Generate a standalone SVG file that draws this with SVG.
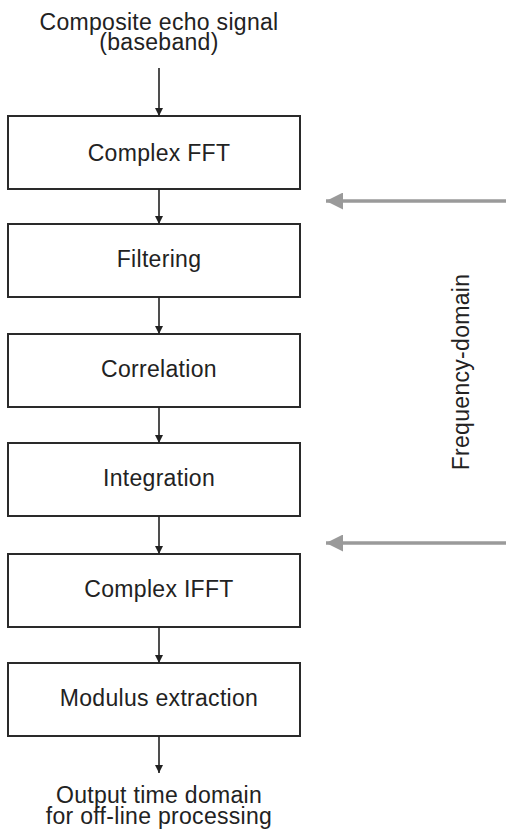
<svg xmlns="http://www.w3.org/2000/svg" width="506" height="830" viewBox="0 0 506 830">
<style>
.box{fill:#fff;stroke:#2a2a2a;stroke-width:2}
.t{font-family:"Liberation Sans",Arial,sans-serif;font-size:23px;fill:#222;text-anchor:middle;letter-spacing:0.3px}
.c{stroke:#222;stroke-width:1.6;fill:none}
.g{stroke:#9a9a9a;stroke-width:3.5;fill:none}
</style>
<defs>
<marker id="ah" viewBox="0 0 10 10" refX="10" refY="5" markerWidth="8" markerHeight="11" markerUnits="userSpaceOnUse" orient="auto">
<path d="M0,0 L10,5 L0,10 Z" fill="#222"/>
</marker>
<marker id="gh" viewBox="0 0 10 10" refX="10" refY="5" markerWidth="20" markerHeight="17" markerUnits="userSpaceOnUse" orient="auto">
<path d="M0,0 L10,5 L0,10 Z" fill="#9a9a9a"/>
</marker>
</defs>
<text class="t" x="159" y="30">Composite echo signal</text>
<text class="t" x="159" y="50">(baseband)</text>
<g id="n1"><rect class="box" x="8" y="116" width="292" height="73"/><text class="t" x="159" y="161">Complex FFT</text></g>
<g id="n2"><rect class="box" x="8" y="224" width="292" height="73"/><text class="t" x="159" y="267">Filtering</text></g>
<g id="n3"><rect class="box" x="8" y="334" width="292" height="73"/><text class="t" x="159" y="377">Correlation</text></g>
<g id="n4"><rect class="box" x="8" y="443" width="292" height="73"/><text class="t" x="159" y="486">Integration</text></g>
<g id="n5"><rect class="box" x="8" y="554" width="292" height="73"/><text class="t" x="159" y="597">Complex IFFT</text></g>
<g id="n6"><rect class="box" x="8" y="663" width="292" height="73"/><text class="t" x="159" y="706">Modulus extraction</text></g>
<text class="t" x="159" y="803">Output time domain</text>
<text class="t" x="159" y="824">for off-line processing</text>
<text class="t" transform="translate(469,372) rotate(-90)">Frequency-domain</text>
<g id="connectors">
<line class="c" x1="159" y1="68" x2="159" y2="116" marker-end="url(#ah)"/>
<line class="c" x1="159" y1="189" x2="159" y2="224" marker-end="url(#ah)"/>
<line class="c" x1="159" y1="297" x2="159" y2="334" marker-end="url(#ah)"/>
<line class="c" x1="159" y1="407" x2="159" y2="443" marker-end="url(#ah)"/>
<line class="c" x1="159" y1="516" x2="159" y2="554" marker-end="url(#ah)"/>
<line class="c" x1="159" y1="627" x2="159" y2="663" marker-end="url(#ah)"/>
<line class="c" x1="159" y1="736" x2="159" y2="773" marker-end="url(#ah)"/>
<line class="g" x1="506" y1="201" x2="326" y2="201" marker-end="url(#gh)"/>
<line class="g" x1="506" y1="543" x2="326" y2="543" marker-end="url(#gh)"/>
</g>
</svg>
